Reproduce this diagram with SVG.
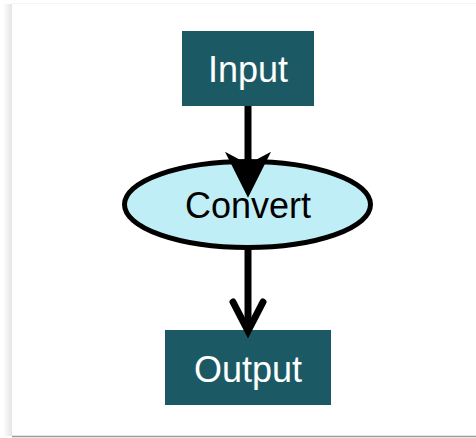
<svg xmlns="http://www.w3.org/2000/svg" width="476" height="438" viewBox="0 0 476 438">
  <style>
    .box { fill: #1b5a65; }
    .oval { fill: #c0eef6; stroke: #000; stroke-width: 5; }
    .lbl { font-family: "Liberation Sans", Arial, sans-serif; font-size: 36px; text-anchor: middle; }
    .light { fill: #ffffff; }
    .dark { fill: #000000; }
    .edge { fill: none; stroke: #000; stroke-width: 7; stroke-linecap: butt; }
    .head { fill: none; stroke: #000; stroke-width: 7; stroke-linecap: round; stroke-linejoin: miter; }
    .head.solid { fill: #000; }
  </style>
  <defs>
    <linearGradient id="leftShade" x1="0" y1="0" x2="1" y2="0">
      <stop offset="0" stop-color="#ffffff"/>
      <stop offset="1" stop-color="#e4e4e4"/>
    </linearGradient>
  </defs>

  <!-- page -->
  <rect x="0" y="0" width="476" height="438" fill="#ffffff"/>
  <rect x="3" y="4" width="9" height="432" fill="url(#leftShade)"/>
  <line x1="12" y1="3.5" x2="476" y2="3.5" stroke="#f4f4f4" stroke-width="1"/>
  <line x1="12" y1="436.5" x2="476" y2="436.5" stroke="#9a9a9a" stroke-width="1.5"/>

  <g id="input">
    <rect class="box" x="182" y="31" width="132" height="75"/>
    <text class="lbl light" x="248" y="82">Input</text>
  </g>

  <g id="convert">
    <ellipse class="oval" cx="247.5" cy="204.5" rx="123" ry="43"/>
    <text class="lbl dark" x="248" y="218">Convert</text>
  </g>

  <g id="output">
    <rect class="box" x="165" y="330" width="166" height="75"/>
    <text class="lbl light" x="248" y="382">Output</text>
  </g>

  <!-- connectors, drawn over the node outlines -->
  <g id="connectors">
    <line class="edge" x1="248" y1="106" x2="248" y2="180"/>
    <polygon class="head solid" points="233,160 248,190 263,160 248,168"/>
    <line class="edge" x1="248" y1="248" x2="248" y2="326"/>
    <polyline class="head" points="233,302 248,331 263,302"/>
  </g>
</svg>
